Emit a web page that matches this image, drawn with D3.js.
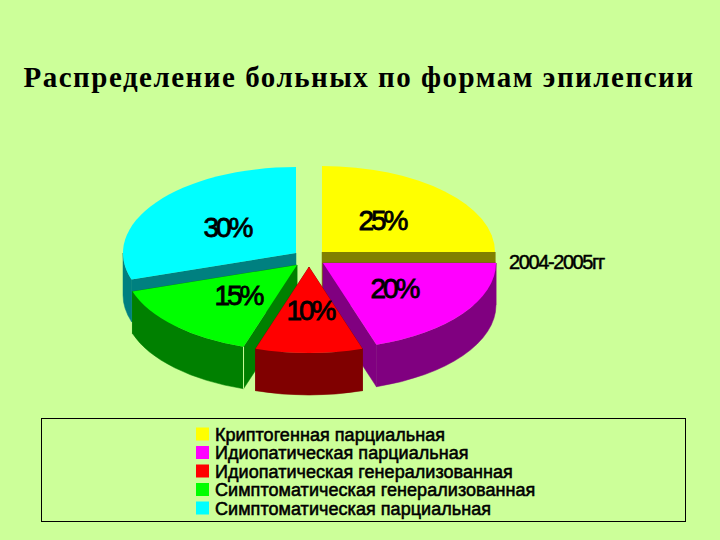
<!DOCTYPE html>
<html lang="ru">
<head>
<meta charset="utf-8">
<title>Распределение больных по формам эпилепсии</title>
<script src="https://cdn.jsdelivr.net/npm/d3@7"></script>
<style>
  html, body { margin: 0; padding: 0; background: #ccff99; }
  svg { display: block; }
  text { fill: #000; }
  .title { font: bold 29px "Liberation Serif", serif; letter-spacing: 1.5px; }
  .pct { font: 28px "Liberation Sans", sans-serif; letter-spacing: -3px; stroke: #000; stroke-width: .8px; }
  .series { font: 20px "Liberation Sans", sans-serif; letter-spacing: -1.4px; stroke: #000; stroke-width: .5px; }
  .legend { font: 18px "Liberation Sans", sans-serif; letter-spacing: .05px; stroke: #000; stroke-width: .55px; }
</style>
</head>
<body>
<svg id="chart"></svg>
<script>
const chartTitle = 'Распределение больных по формам эпилепсии';
const seriesName = '2004-2005гг';
const categories = [
  'Криптогенная парциальная',
  'Идиопатическая парциальная',
  'Идиопатическая генерализованная',
  'Симптоматическая генерализованная',
  'Симптоматическая парциальная'
];
const values = [25, 20, 10, 15, 30];
const topColors = ['#ffff00', '#ff00ff', '#ff0000', '#00ff00', '#00ffff'];
const sideColors = ['#808000', '#800080', '#800000', '#008000', '#008080'];

const width = 720, height = 540;
const rx = 173, ry = 86, depth = 42;
// exploded slice apexes, in category order
const apexes = [[322, 252], [323, 263], [309, 267], [297, 265], [296, 253]];
const labelSpots = [[382, 230], [394, 298], [310, 320], [238, 305], [227, 237]];
// back slices first so the front ones cover them
const paintOrder = [4, 0, 3, 1, 2];

const svg = d3.select('#chart').attr('width', width).attr('height', height)
  .attr('viewBox', `0 0 ${width} ${height}`);

svg.append('text').attr('class', 'title')
  .attr('x', 359).attr('y', 87).attr('text-anchor', 'middle')
  .text(chartTitle);

const slices = d3.pie().sort(null)(values);
const topArc = d3.arc().innerRadius(0).outerRadius(rx);
const onRim = (c, a) => [c[0] + rx * Math.sin(a), c[1] - ry * Math.cos(a)];

// cut face running from apex to the rim at angle a
function cutFace(c, a) {
  const p = onRim(c, a);
  return `M${c[0]},${c[1]}L${p[0]},${p[1]}L${p[0]},${p[1] + depth}L${c[0]},${c[1] + depth}Z`;
}

// outer wall, only the part facing the viewer (90deg..270deg)
function rimWall(c, a0, a1) {
  const from = Math.max(a0, Math.PI / 2), to = Math.min(a1, Math.PI * 1.5);
  if (to <= from) return null;
  const p0 = onRim(c, from), p1 = onRim(c, to);
  return `M${p0[0]},${p0[1]}A${rx},${ry} 0 0 1 ${p1[0]},${p1[1]}` +
    `L${p1[0]},${p1[1] + depth}A${rx},${ry} 0 0 0 ${p0[0]},${p0[1] + depth}Z`;
}

const pie = svg.append('g');
paintOrder.forEach(i => {
  const s = slices[i], c = apexes[i];
  const g = pie.append('g');
  // hairline stroke closes the antialias seam between wall and cut
  // cuts pointing straight up have no visible face, skip them
  [s.startAngle, s.endAngle].filter(a => Math.cos(a) < .99).forEach(a => {
    g.append('path').attr('d', cutFace(c, a))
      .attr('fill', sideColors[i]).attr('stroke', sideColors[i]).attr('stroke-width', .5);
  });
  const wall = rimWall(c, s.startAngle, s.endAngle);
  if (wall) g.append('path').attr('d', wall)
    .attr('fill', sideColors[i]).attr('stroke', sideColors[i]).attr('stroke-width', .5);
  g.append('path')
    .attr('d', topArc(s))
    .attr('transform', `translate(${c[0]},${c[1]}) scale(1,${ry / rx})`)
    .attr('fill', topColors[i]);
  // pale seam on the green slice where the cut meets the wall
  if (i === 3) {
    const p = onRim(c, s.startAngle);
    g.append('line')
      .attr('x1', p[0]).attr('y1', p[1]).attr('x2', p[0]).attr('y2', p[1] + depth)
      .attr('stroke', '#ccff99').attr('stroke-width', 1);
  }
});

svg.append('g').selectAll('text').data(values).join('text')
  .attr('class', 'pct')
  .attr('text-anchor', 'middle')
  .attr('x', (d, i) => labelSpots[i][0])
  .attr('y', (d, i) => labelSpots[i][1])
  .text(d => d + '%');

svg.append('text').attr('class', 'series')
  .attr('x', 509).attr('y', 269)
  .text(seriesName);

// legend
svg.append('rect')
  .attr('x', 41.5).attr('y', 418.5).attr('width', 644).attr('height', 103)
  .attr('fill', 'none').attr('stroke', '#000').attr('stroke-width', 1);

const rowY = d3.scalePoint().domain(categories).range([434, 508]);
const rows = svg.append('g').selectAll('g').data(categories).join('g')
  .attr('transform', d => `translate(196,${rowY(d)})`);
rows.append('rect')
  .attr('x', 0).attr('y', -6.5).attr('width', 13).attr('height', 13)
  .attr('fill', (d, i) => topColors[i]);
rows.append('text').attr('class', 'legend')
  .attr('x', 19).attr('y', 6.5)
  .text(d => d);
</script>
</body>
</html>
